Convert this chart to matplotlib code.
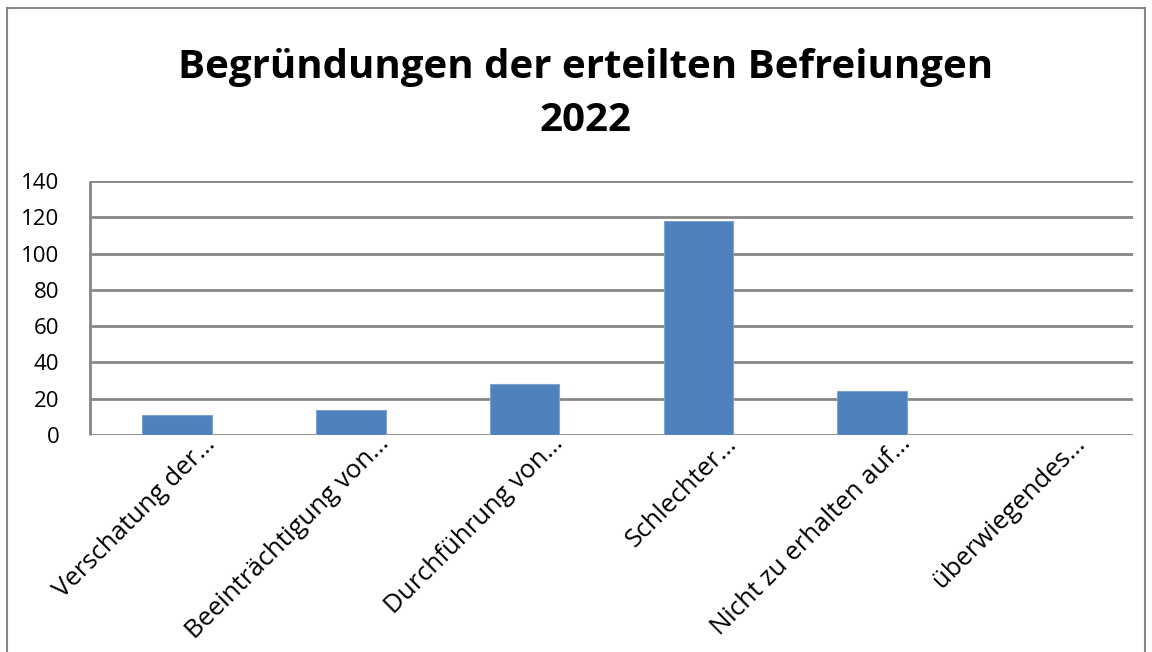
import matplotlib.pyplot as plt
import matplotlib.transforms as mtransforms
from matplotlib.patches import Rectangle

categories = ["Verschatung der…", "Beeinträchtigung von…", "Durchführung von…",
              "Schlechter…", "Nicht zu erhalten auf…", "überwiegendes…"]
values = [11, 14, 28, 118, 24, 0]
yticks = [0, 20, 40, 60, 80, 100, 120, 140]

plt.rcParams['font.family'] = ['Open Sans', 'DejaVu Sans']

fig = plt.figure(figsize=(11.52, 6.52), dpi=100)
fig.patches.append(Rectangle((0.006, -0.01), 0.988, 0.998, transform=fig.transFigure,
                             fill=False, edgecolor='#888888', linewidth=1.5))

ax = fig.add_axes([90/1152, 1 - 435/652, (1133-90)/1152, (435-181)/652])
x = range(len(categories))
ax.bar(x, values, width=0.4, color='#4F81BD', edgecolor='#7FA3D1', linewidth=0.8, zorder=3)

ax.set_xlim(-0.5, len(categories) - 0.5)
ax.set_ylim(0, 140)
ax.set_yticks(yticks)
ax.tick_params(axis='y', labelsize=16, length=0, pad=22)
ax.set_xticks(list(x))
ax.set_xticklabels(categories, rotation=45, ha='right', rotation_mode='anchor', fontsize=18.5)
ax.tick_params(axis='x', length=0, pad=6)
shift = mtransforms.ScaledTranslation(0.26, 0.12, fig.dpi_scale_trans)
for lab in ax.get_xticklabels():
    lab.set_transform(lab.get_transform() + shift)
ax.grid(axis='y', color='#868686', linewidth=2, zorder=0)
for s in ['top', 'right', 'bottom']:
    ax.spines[s].set_visible(False)
ax.spines['left'].set_color('#868686')
ax.spines['left'].set_linewidth(2)
ax.spines['left'].set_capstyle('butt')

fig.text(0.508, 1 - 94/652, "Begründungen der erteilten Befreiungen\n2022", ha='center', va='center',
         fontsize=29, fontweight='bold', linespacing=1.45)

fig.savefig('out.png', dpi=100)
